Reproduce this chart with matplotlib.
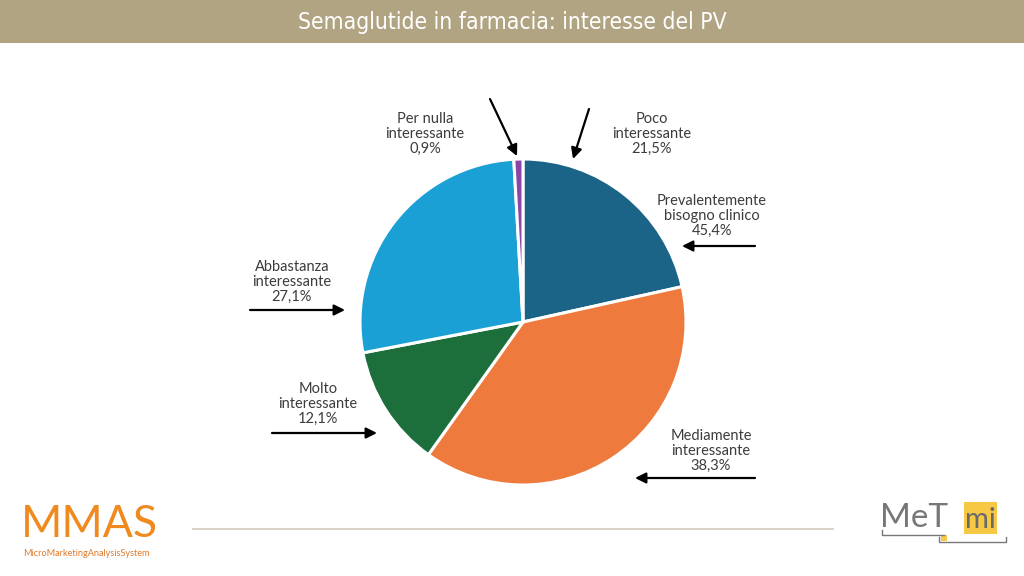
import matplotlib
matplotlib.use("Agg")
import matplotlib.pyplot as plt
from matplotlib.patches import Rectangle
from matplotlib import font_manager as fm

# ---- data ----
categories = ["Poco\ninteressante", "Mediamente\ninteressante", "Molto\ninteressante",
              "Abbastanza\ninteressante", "Per nulla\ninteressante"]
values = [21.5, 38.3, 12.1, 27.1, 0.9]
value_labels = ["21,5%", "38,3%", "12,1%", "27,1%", "0,9%"]
colors = ["#1b6488", "#ee7a3e", "#1c6e3b", "#1aa0d5", "#8d44a8"]
extra_label = "Prevalentemente\nbisogno clinico\n45,4%"
title = "Semaglutide in farmacia: interesse del PV"

# find a condensed font if one is installed
cond = None
for f in fm.fontManager.ttflist:
    nm = (f.name + " " + f.fname).lower()
    if ("condensed" in nm or "narrow" in nm or "condensed" in str(f.stretch)) \
            and "bold" not in nm and "italic" not in nm and "oblique" not in nm:
        cond = f.fname
        break
title_fp = fm.FontProperties(fname=cond) if cond else fm.FontProperties(family="DejaVu Sans")

W, H = 1024, 576
fig = plt.figure(figsize=(W / 100, H / 100), dpi=100)
ax = fig.add_axes([0, 0, 1, 1])

def Y(y):
    return H - y

# pie
ax.pie(values, colors=colors, startangle=90, counterclock=False,
       center=(523, Y(322)), radius=163,
       wedgeprops=dict(edgecolor="white", linewidth=2.2))
ax.set_xlim(0, W)
ax.set_ylim(0, H)
ax.set_aspect("auto")
ax.axis("off")

# title bar
ax.add_patch(Rectangle((0, Y(43)), W, 43, facecolor="#b1a482", edgecolor="none", zorder=5))
t = ax.text(512, Y(23), title, color="white", ha="center", va="center",
            fontproperties=title_fp, fontsize=24, zorder=6)
fig.canvas.draw()
wpx = t.get_window_extent().width
t.set_fontsize(min(26, 24 * 430.0 / wpx))

# labels
lab_kw = dict(fontsize=10.5, color="#3c3c3c", ha="center", va="center",
              family="Lato", linespacing=1.05)
label_pos = {
    0: (652, 134),   # Poco
    1: (711, 451),   # Mediamente
    2: (318, 404),   # Molto
    3: (292, 282),   # Abbastanza
    4: (425, 134),   # Per nulla
}
for i, (x, y) in label_pos.items():
    ax.text(x, Y(y), categories[i] + "\n" + value_labels[i], **lab_kw)
ax.text(712, Y(216), extra_label, **lab_kw)

# arrows (start -> end in pixel coords)
arrows = [
    ((490, 99), (517, 156)),
    ((589, 109), (573, 159)),
    ((755, 246), (682, 246)),
    ((250, 310), (345, 310)),
    ((272, 433), (377, 433)),
    ((755, 478), (635, 478)),
]
for (x0, y0), (x1, y1) in arrows:
    ax.annotate("", xy=(x1, Y(y1)), xytext=(x0, Y(y0)),
                arrowprops=dict(arrowstyle="-|>", color="black", lw=1.6,
                                mutation_scale=16, shrinkA=0, shrinkB=0))

# bottom separator
ax.plot([193, 833], [Y(529), Y(529)], color="#cfc8bb", lw=1.2)

# MMAS logo
ax.text(21, Y(537), "MMAS", color="#f08a1e", fontsize=32, family="Lato",
        ha="left", va="baseline")
ax.text(23, Y(553), "MicroMarketingAnalysisSystem", color="#e0792a", fontsize=6.6,
        family="Lato", ha="left", va="center")

# MeT mi logo
ax.text(880, Y(527), "MeT", color="#777777", fontsize=24, family="Lato",
        ha="left", va="baseline")
ax.add_patch(Rectangle((964, Y(534)), 33, 32, facecolor="#f7c843", edgecolor="none"))
ax.text(980, Y(520), "mi", color="#6a6a6a", fontsize=21, family="Lato",
        ha="center", va="center")
ax.plot([882, 882, 944], [Y(530), Y(535), Y(535)], color="#777777", lw=1)
ax.plot([939, 939, 1006, 1006], [Y(537), Y(542), Y(542), Y(537)], color="#777777", lw=1)
ax.add_patch(Rectangle((941, Y(541)), 6, 6, facecolor="#f7c843", edgecolor="none"))

fig.savefig("out.png", dpi=100)
